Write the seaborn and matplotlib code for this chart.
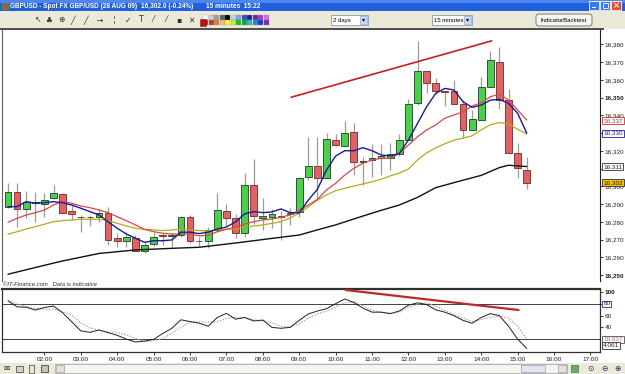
import numpy as np
import pandas as pd
import matplotlib
matplotlib.use("Agg")
import matplotlib.pyplot as plt
import seaborn as sns
from matplotlib.patches import Rectangle, FancyBboxPatch
from matplotlib.transforms import blended_transform_factory

# ---------------- data (15-minute candles from 01:00 to 15:15) ----------------
opens = [16288.5, 16297, 16287, 16290.5, 16290, 16293.5, 16295.5, 16286, 16283, 16283,
         16283, 16285, 16271, 16269, 16271, 16263.5, 16267.5, 16272.5, 16272, 16272.5,
         16283, 16269.5, 16269, 16275.5, 16286, 16282, 16273.5, 16301, 16282, 16283,
         16283.5, 16285, 16285.5, 16305.5, 16311.5, 16305, 16326, 16322.5, 16330.5, 16313.5,
         16315, 16316, 16316, 16318, 16326, 16347, 16365, 16358, 16353.5, 16353.5,
         16346.5, 16332, 16337.5, 16356, 16370, 16348.5, 16319, 16309]
highs = [16302, 16302, 16297.5, 16297, 16296, 16300.5, 16296.5, 16290, 16284, 16284,
         16287.5, 16288.5, 16274, 16274.5, 16272.5, 16268.5, 16274.5, 16274, 16274, 16283.5,
         16284, 16271.5, 16277, 16296, 16290, 16284.5, 16307.5, 16315.5, 16293.5, 16287.5,
         16286, 16288, 16305.5, 16328, 16328, 16330, 16329.5, 16337, 16335.5, 16316.5,
         16324, 16324, 16324.5, 16329.5, 16349.5, 16382, 16365, 16361, 16354, 16360,
         16348.5, 16343, 16361.5, 16376, 16378.5, 16355, 16324.5, 16316.5]
lows = [16288, 16277, 16282, 16280, 16283, 16293, 16285, 16281, 16274.5, 16277.5,
        16280, 16267, 16266, 16266, 16263.5, 16262.5, 16266.5, 16267, 16266, 16271.5,
        16268, 16266.5, 16265.5, 16274.5, 16277.5, 16271, 16271.5, 16279, 16275.5, 16276.5,
        16270, 16278.5, 16283, 16303.5, 16292.5, 16305, 16323, 16322.5, 16306.5, 16301,
        16305.5, 16306.5, 16309, 16317, 16326, 16346, 16352.5, 16352, 16345.5, 16346.5,
        16327, 16332, 16337.5, 16356, 16343.5, 16319, 16305, 16298.5]
closes = [16297, 16287, 16291, 16291, 16292.5, 16296, 16285, 16284.5, 16282.5, 16282.5,
          16285, 16270, 16269, 16271.5, 16263.5, 16267, 16271.5, 16272, 16272.5, 16283,
          16269.5, 16269, 16275.5, 16286.5, 16282, 16273.5, 16301, 16283.5, 16283.5, 16284.5,
          16283, 16284.5, 16305, 16311.5, 16305, 16326.5, 16323.5, 16330, 16313.5, 16314.5,
          16316, 16317, 16318, 16326, 16346.5, 16365, 16358, 16353.5, 16353, 16346.5,
          16332, 16338, 16356, 16371, 16348.5, 16319, 16310.5, 16302]

ma_blue = [16288.6, 16288.6, 16291.4, 16290.5, 16290.8, 16291.4, 16290.8, 16289.5, 16287.7, 16285.8,
           16283.9, 16280.1, 16276.4, 16273.2, 16270.8, 16268.5, 16269.4, 16269.4, 16269.8, 16274.2,
           16274.2, 16273.4, 16274.2, 16276.0, 16277.1, 16280.0, 16284.5, 16285.8, 16285.2, 16285.6,
           16287.3, 16285.2, 16285.0, 16292.3, 16298.4, 16309.2, 16317.1, 16320.1, 16320.1, 16321.8,
           16320.1, 16317.7, 16317.1, 16318.6, 16326.1, 16335.5, 16344.9, 16352.4, 16355.2, 16354.3,
           16347.7, 16344.5, 16345.8, 16348.6, 16349.0, 16346.8, 16341.2, 16330.0]
ma_red = [16279.8, 16282.0, 16283.9, 16285.2, 16286.7, 16289.5, 16291.4, 16290.5, 16289.0, 16288.0,
          16286.7, 16285.2, 16282.9, 16280.7, 16278.3, 16275.8, 16274.5, 16273.6, 16273.2, 16273.2,
          16273.2, 16272.1, 16272.4, 16274.5, 16275.8, 16277.0, 16278.8, 16280.1, 16281.1, 16281.6,
          16282.6, 16283.9, 16286.7, 16289.5, 16292.7, 16298.0, 16301.7, 16306.4, 16310.2, 16313.0,
          16314.9, 16315.8, 16315.8, 16318.6, 16323.3, 16328.0, 16331.8, 16334.6, 16338.4, 16340.2,
          16342.1, 16345.3, 16347.1, 16350.5, 16352.0, 16348.6, 16343.0, 16337.4]
ma_olive = [16273.0, 16274.5, 16276.0, 16277.3, 16278.7, 16280.1, 16280.7, 16281.1, 16281.5, 16281.5,
            16281.5, 16280.7, 16279.2, 16277.7, 16276.4, 16275.8, 16275.5, 16275.1, 16275.5, 16275.8,
            16275.5, 16275.1, 16274.9, 16275.5, 16275.8, 16276.0, 16277.0, 16277.7, 16278.3, 16279.2,
            16280.1, 16282.2, 16285.0, 16288.4, 16292.3, 16295.2, 16297.6, 16298.9, 16300.2, 16301.4,
            16302.6, 16304.0, 16305.9, 16307.5, 16309.8, 16314.9, 16318.9, 16321.7, 16324.0, 16326.0,
            16327.2, 16328.5, 16331.9, 16334.7, 16336.0, 16335.1, 16332.2, 16329.5]
ma_black_idx = [0, 3, 6, 10, 14, 18, 21, 25, 29, 32, 34, 36, 39, 41, 43, 45, 47, 50, 52, 54, 55, 57]
ma_black = [16250.5, 16254.3, 16258.0, 16262.2, 16264.2, 16265.1, 16265.7, 16268.1, 16270.7, 16272.6,
            16275.5, 16278.3, 16283.3, 16286.5, 16289.5, 16293.8, 16299.3, 16303.5, 16306.2, 16310.6,
            16311.9, 16311.2]

stoch_k = [85.6, 75, 74.5, 69.7, 74, 76.5, 65, 49.7, 34, 31.6, 35.5, 31, 26.5, 20, 15, 16.5, 19.5,
           29.5, 38.5, 53, 50, 47.2, 42, 57, 64, 54, 57, 51, 52.5, 40, 38.5, 40, 52, 63, 68, 72,
           80.5, 88.5, 82.5, 73, 66, 66, 63.5, 68, 78, 82, 79, 70, 66, 60, 52, 47, 57, 63.5, 60,
           42, 20, 4.061]
stoch_d = [85.6, 80, 75.5, 72.5, 71, 71, 67, 61, 48, 39, 35.5, 32.5, 31, 27.5, 21, 16, 17, 21,
           30, 40, 49, 49.7, 48.5, 49.5, 55.5, 57, 56, 53, 51.5, 47.5, 42, 41, 46, 56, 63, 68,
           74.5, 82, 84, 77, 69, 66, 64, 66, 74, 79.5, 82, 76, 69, 62, 56, 50, 53.5, 57, 59.5,
           56, 42, 19.937]

price_trend_idx = [31.1, 53.15]
price_trend_val = [16350.2, 16382.0]
osc_trend_idx = [37.1, 56.1]
osc_trend_val = [103.9, 69.7]

time_labels = ['02:00', '03:00', '04:00', '05:00', '06:00', '07:00', '08:00', '09:00',
               '10:00', '11:00', '12:00', '13:00', '14:00', '15:00', '16:00', '17:00']
time_tick_idx = [4, 8, 12, 16, 20, 24, 28, 32, 36, 40, 44, 48, 52, 56, 60, 64]
price_ticks = list(range(16250, 16381, 10))
hidden_price_labels = [16330, 16310]   # covered by the value boxes in the reference
osc_ticks = [100, 80, 60, 40]

# ---------------- style ----------------
sns.set_theme(style="white")
FONT = ['Liberation Sans', 'DejaVu Sans']
plt.rcParams['font.family'] = FONT
plt.rcParams['axes.linewidth'] = 0.8
LS = 4.6  # label size

W, H = 625, 374
fig = plt.figure(figsize=(W / 100, H / 100), dpi=100)
fig.patch.set_facecolor('white')


def fr(x0, y0, x1, y1):
    return [x0 / W, 1 - y1 / H, (x1 - x0) / W, (y1 - y0) / H]


def prect(x0, y0, x1, y1, **kw):
    fig.add_artist(Rectangle((x0 / W, 1 - y1 / H), (x1 - x0) / W, (y1 - y0) / H,
                             transform=fig.transFigure, **kw))


def ptext(x, y, s, **kw):
    fig.text(x / W, 1 - y / H, s, **kw)


# ---------------- window chrome ----------------
prect(0, 0, 625, 11, facecolor='#2160dc', edgecolor='none')
prect(0, 0, 625, 3, facecolor='#4d86f0', edgecolor='none')
prect(2, 3, 8, 9, facecolor='#d04040', edgecolor='#40a040', linewidth=0.6)
ptext(10, 6, 'GBPUSD - Spot FX GBP/USD (28 AUG 09)', color='white', fontsize=4.7,
      fontweight='bold', va='center')
ptext(141, 6, '16,302.0 (-0.24%)', color='white', fontsize=4.7, fontweight='bold', va='center')
ptext(206, 6, '15 minutes  15:22', color='white', fontsize=4.7, fontweight='bold', va='center')
for x0, col in [(589, '#3a78f0'), (600, '#3a78f0'), (611, '#e0502a')]:
    prect(x0, 1, x0 + 10, 10, facecolor=col, edgecolor='white', linewidth=0.6)
prect(591.5, 7, 595.5, 8, facecolor='white', edgecolor='none')
prect(602.5, 3.5, 607.5, 7.5, facecolor='none', edgecolor='white', linewidth=0.6)
ptext(616, 5.6, '×', color='white', fontsize=6, ha='center', va='center', family='DejaVu Sans',
      fontweight='bold')

prect(0, 11, 625, 29, facecolor='#ece9d8', edgecolor='none')
# toolbar icons (simple glyphs)
icon_x = [38, 49, 61, 73, 86, 100, 114, 128, 141, 153, 166, 179, 191]
icon_s = ['↖', '♣', '⊕', '╱', '╱', '→', '¦', '✓', 'T', '⁄', '⁄', '▪', '✕']
for x, s in zip(icon_x, icon_s):
    ptext(x, 20, s, color='#303030', fontsize=5.5, ha='center', va='center', family='DejaVu Sans')
pal_top = ['#ffffff', '#d0d0d0', '#a0a0a0', '#606060', '#000000', '#c0d8f0', '#80a8e0',
           '#3050c0', '#2020a0', '#6030a0', '#a040c0', '#d070d0']
pal_bot = ['#e02020', '#c04020', '#e08040', '#f0c080', '#ffff20', '#c0f040', '#20c020',
           '#10a050', '#20c0c0', '#2080f0', '#1040c0', '#8020c0']
for k in range(12):
    prect(203 + 5.5 * k, 15, 208 + 5.5 * k, 19.5, facecolor=pal_top[k], edgecolor='#888888', linewidth=0.2)
    prect(203 + 5.5 * k, 20, 208 + 5.5 * k, 24.5, facecolor=pal_bot[k], edgecolor='#888888', linewidth=0.2)
prect(200, 19, 206, 25.5, facecolor='#e00000', edgecolor='#404040', linewidth=0.4)

for (x0, x1, label) in [(331, 368, '2 days'), (432, 472, '15 minutes')]:
    prect(x0, 15, x1, 25, facecolor='white', edgecolor='#7f9db9', linewidth=0.6)
    prect(x1 - 8, 16, x1 - 1, 24, facecolor='#c8d8f8', edgecolor='#7f9db9', linewidth=0.4)
    ptext(x0 + 2, 20.3, label, fontsize=4.3, va='center', color='black')
    ptext(x1 - 4.5, 20, '▾', fontsize=4.5, va='center', ha='center', color='black',
          family='DejaVu Sans')
fig.add_artist(FancyBboxPatch((536 / W, 1 - 26 / H), 56 / W, 12 / H,
                              boxstyle='round,pad=0,rounding_size=0.006',
                              transform=fig.transFigure, facecolor='#f6f5f0',
                              edgecolor='#5a6a80', linewidth=0.6))
ptext(564, 20.3, 'IndicatorBacktest', fontsize=4.3, ha='center', va='center', color='black')
prect(0, 28.5, 604, 29.5, facecolor='#505050', edgecolor='none')

# bottom toolbar
prect(0, 363, 625, 374, facecolor='#ece9d8', edgecolor='none')
ptext(7, 368.5, '✉', fontsize=5.5, ha='center', va='center', color='#303030', family='DejaVu Sans')
prect(16, 365.5, 23, 371.5, facecolor='#d0d0d0', edgecolor='#404040', linewidth=0.5)
prect(29, 364.5, 34, 372.5, facecolor='none', edgecolor='#404040', linewidth=0.5)
prect(41, 365, 48, 372, facecolor='#c0c0c0', edgecolor='#303030', linewidth=0.5)
prect(55, 364, 567, 373, facecolor='#f4f4f0', edgecolor='#a0a0a0', linewidth=0.5)
prect(56, 365, 64, 372, facecolor='#e4e4dc', edgecolor='#909090', linewidth=0.4)
prect(558, 365, 566, 372, facecolor='#e4e4dc', edgecolor='#909090', linewidth=0.4)
prect(521, 365, 545, 372, facecolor='#dfe6f2', edgecolor='#8090b0', linewidth=0.4)
prect(571, 365, 578, 372, facecolor='#60b060', edgecolor='#306030', linewidth=0.4)
for x, s in [(590, '⊙'), (604, '⊖'), (617, '⊕')]:
    ptext(x, 368.5, s, fontsize=5.5, ha='center', va='center', color='#203060', family='DejaVu Sans')

# ---------------- main price panel ----------------
ax = fig.add_axes(fr(2, 30, 600, 281))
ax.set_facecolor('white')
idx = np.arange(len(opens))
o = np.array(opens); h = np.array(highs); l = np.array(lows); c = np.array(closes)
up = c >= o
ax.vlines(idx, l, h, color='#9c9c9c', linewidth=0.9, zorder=2)
bottoms = np.minimum(o, c)
heights = np.maximum(np.abs(c - o), 0.45)
ax.bar(idx[up], heights[up], bottom=bottoms[up], width=0.74, color='#4ccf4c',
       edgecolor='#1f3d1f', linewidth=0.6, zorder=3)
ax.bar(idx[~up], heights[~up], bottom=bottoms[~up], width=0.74, color='#e06262',
       edgecolor='#6e2a2a', linewidth=0.6, zorder=3)

df_ma = pd.DataFrame({'i': idx, 'blue': ma_blue, 'red': ma_red, 'olive': ma_olive})
sns.lineplot(data=df_ma, x='i', y='olive', ax=ax, color='#b8a81c', linewidth=0.9, zorder=4)
sns.lineplot(data=df_ma, x='i', y='red', ax=ax, color='#d84848', linewidth=0.9, zorder=4)
sns.lineplot(data=df_ma, x='i', y='blue', ax=ax, color='#1a1a98', linewidth=1.0, zorder=5)
sns.lineplot(x=ma_black_idx, y=ma_black, ax=ax, color='#111111', linewidth=1.0, zorder=4)
ax.plot(price_trend_idx, price_trend_val, color='#c42020', linewidth=1.2, zorder=5)

ax.set_xlim(-0.66, 65.05)
ax.set_ylim(16246.7, 16388.1)
ax.set_xlabel(''); ax.set_ylabel('')
ax.set_xticks([])
ax.yaxis.tick_right()
ax.set_yticks(price_ticks)
ax.set_yticklabels(['' if v in hidden_price_labels else f"{v // 1000},{v % 1000:03d}"
                    for v in price_ticks])
ax.tick_params(axis='y', right=True, length=2.5, width=0.6, pad=1.0, labelsize=LS,
               colors='#202020')
for lab, v in zip(ax.get_yticklabels(), price_ticks):
    if v in (16350, 16250):
        lab.set_fontweight('bold')
for sp in ['top', 'bottom']:
    ax.spines[sp].set_visible(False)
ax.spines['left'].set_color('#606060')
ax.spines['right'].set_color('#202020')

tr = blended_transform_factory(ax.transAxes, ax.transData)
for val, txt, tc, ec, fc in [(16337, '16,337', '#d03030', '#d03030', 'white'),
                             (16330, '16,330', '#202090', '#202090', 'white'),
                             (16311.2, '16,311', '#202020', '#303030', 'white'),
                             (16302, '16,302', '#202020', '#303030', '#f5c000')]:
    ax.text(1.0055, val, txt, transform=tr, fontsize=LS, color=tc, va='center', ha='left',
            clip_on=False, zorder=10,
            bbox=dict(boxstyle='square,pad=0.15', facecolor=fc, edgecolor=ec, linewidth=0.6))

ptext(3, 284.5, '©IT-Finance.com   Data is indicative', fontsize=4.2, style='italic',
      va='center', color='#303030')

# ---------------- oscillator panel ----------------
ax2 = fig.add_axes(fr(2, 289, 600, 352))
ax2.set_facecolor('white')
ax2.axhline(80, color='#3c3c5c', linewidth=0.7, zorder=1)
ax2.axhline(20, color='#3c3c5c', linewidth=0.7, zorder=1)
df_st = pd.DataFrame({'i': idx, 'k': stoch_k, 'd': stoch_d})
sns.lineplot(data=df_st, x='i', y='d', ax=ax2, color='#c8a0a0', linewidth=0.9,
             linestyle=(0, (1.2, 1.2)), zorder=2)
sns.lineplot(data=df_st, x='i', y='k', ax=ax2, color='#202020', linewidth=0.7, zorder=3)
ax2.plot(osc_trend_idx, osc_trend_val, color='#c02828', linewidth=1.6, zorder=4)
ax2.set_xlim(-0.66, 65.05)
ax2.set_ylim(-2.05, 105.6)
ax2.set_xlabel(''); ax2.set_ylabel('')
ax2.set_xticks(time_tick_idx)
ax2.set_xticklabels(time_labels)
ax2.tick_params(axis='x', bottom=True, length=2, width=0.6, pad=1.5, labelsize=LS,
                colors='#202020')
ax2.yaxis.tick_right()
ax2.set_yticks(osc_ticks)
ax2.set_yticklabels(['100', '', '60', '40'])
ax2.tick_params(axis='y', right=True, length=2.5, width=0.6, pad=1.0, labelsize=LS,
                colors='#202020')
ax2.get_yticklabels()[0].set_fontweight('bold')
for sp in ax2.spines.values():
    sp.set_color('#303030')
    sp.set_linewidth(0.9)
ax2.spines['top'].set_linewidth(1.6)

tr2 = blended_transform_factory(ax2.transAxes, ax2.transData)
for val, txt, tc, ec in [(80, '80', '#202060', '#303070'),
                         (19.937, '19.937', '#c07070', '#505050'),
                         (8.6, '4.061', '#202020', '#303030')]:
    ax2.text(1.0055, val, txt, transform=tr2, fontsize=LS, color=tc, va='center', ha='left',
             clip_on=False, zorder=10,
             bbox=dict(boxstyle='square,pad=0.15', facecolor='white', edgecolor=ec, linewidth=0.6))

fig.savefig('out.png', dpi=100, facecolor=fig.get_facecolor())
